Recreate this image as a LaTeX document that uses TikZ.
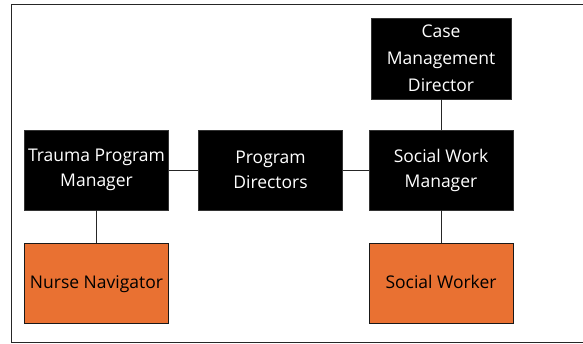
\documentclass[tikz,border=0pt]{standalone}
\usepackage{fontspec}
\setmainfont{Open Sans}
\begin{document}
\begin{tikzpicture}[x=1pt,y=-1pt,
  box/.style={rectangle, inner sep=0pt, minimum width=144pt, minimum height=80pt,
    align=center, font=\fontsize{17.5}{25}\selectfont, line width=0.8pt},
  darkbox/.style={box, fill=black, draw=black!80, text=white},
  orangebox/.style={box, fill=boxorange, draw=black!90, text=black},
  link/.style={draw=black!85, line width=0.9pt}]
  \definecolor{boxorange}{HTML}{E97132}
  \useasboundingbox (0,0) rectangle (583,343);
  % outer frame, running off the right edge
  \draw[black!85, line width=1pt] (590,4) -- (11,4) -- (11,342) -- (590,342);

  \node[darkbox] (tpm) at (96.5,170) {Trauma Program\\Manager};
  \node[darkbox] (pd)  at (270.5,170) {Program\\Directors};
  \node[darkbox] (swm) at (441,170) {Social Work\\Manager};
  \node[darkbox, minimum width=140pt, minimum height=81pt,
        font=\fontsize{17.5}{27}\selectfont] (cmd) at (441,58.5) {Case\\Management\\Director};
  \node[orangebox] (nn) at (96.5,283) {\strut Nurse Navigator};
  \node[orangebox] (sw) at (441,283) {\strut Social Worker};

  \draw[link] (tpm) -- (pd);
  \draw[link] (pd) -- (swm);
  \draw[link] (cmd) -- (swm);
  \draw[link] (tpm) -- (nn);
  \draw[link] (swm) -- (sw);
\end{tikzpicture}
\end{document}
